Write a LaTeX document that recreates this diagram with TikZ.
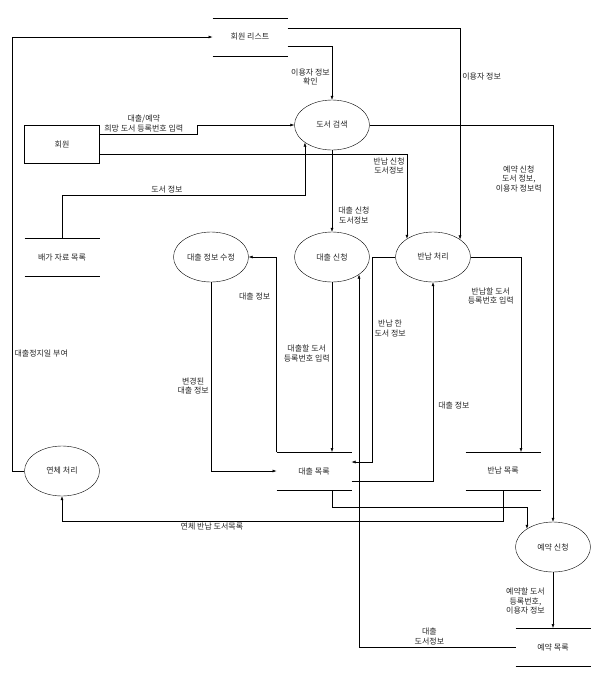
\documentclass[tikz,border=0pt]{standalone}
\usepackage{fontspec}
\setmainfont{Noto Sans CJK KR}
\usetikzlibrary{shapes.geometric, arrows.meta, positioning}

\begin{document}
\begin{tikzpicture}[x=1pt, y=-1pt,
        font=\fontsize{8}{9.5}\selectfont,
        every node/.style={text=black!85},
        proc/.style={draw, ellipse, minimum width=75pt, minimum height=50pt, inner sep=0pt},
        store/.style={minimum width=75pt, minimum height=38pt, inner sep=0pt, outer sep=0pt},
        ext/.style={draw, rectangle, minimum width=75pt, minimum height=38pt, inner sep=0pt},
        lbl/.style={align=center, inner sep=2pt},
        flow/.style={-{Latex[length=4pt, width=3pt]}, line width=0.5pt}]
        \useasboundingbox (0,0) rectangle (597,673);

        \node[store] (members)  at (250,37)  {회원 리스트};
        \node[ext]   (member)   at (62,144)  {회원};
        \node[store] (shelf)    at (62,257)  {배가 자료 목록};
        \node[proc]  (search)   at (332,125) {도서 검색};
        \node[proc]  (loanfix)  at (211,257) {대출 정보 수정};
        \node[proc]  (loan)     at (332,257) {대출 신청};
        \node[proc]  (ret)      at (433,257) {반납 처리};
        \node[store] (loans)    at (314,471) {대출 목록};
        \node[store] (returns)  at (503,471) {반납 목록};
        \node[proc]  (overdue)  at (62,471)  {연체 처리};
        \node[proc]  (reserve)  at (553,547) {예약 신청};
        \node[store] (reserves) at (553,647) {예약 목록};

        \foreach \s in {members,shelf,loans,returns,reserves}
        {
            \draw (\s.north west) -- (\s.north east) (\s.south west) -- (\s.south east);
        }

        \draw[flow] (overdue.west) -- ++(-12,0) |- node[lbl, right, pos=0.135]{대출정지일 부여} (members.west);
        \draw[flow] ([yshift=-9pt]members.east) -| node[lbl, left, pos=0.79]{이용자 정보\\확인} (search.north);
        \draw[flow] ([yshift=9pt]members.east) -| node[lbl, right, pos=0.615]{이용자 정보} (ret.33);
        \draw[flow] ([yshift=10pt]member.east) -- node[lbl, above, pos=0.45]{대출/예약\\희망 도서 등록번호 입력} ++(98,0) |- (search.west);
        \draw[flow] ([yshift=-10pt]member.east) -| node[lbl, left, pos=0.57]{반납 신청\\도서정보} (ret.145);
        \draw[flow] (shelf.north) -- ++(0,-43) -| node[lbl, above, pos=0.216]{도서 정보} (search.213);
        \draw[flow] (search.east) -| node[lbl, left=9pt, pos=0.568]{예약 신청\\도서 정보,\\이용자 정보력} (reserve.north);
        \draw[flow] (search.south) -- node[lbl, right=4pt, pos=0.8]{대출 신청\\도서정보} (loan.north);
        \draw[flow] (loans.north west) |- node[lbl, left=4pt, pos=0.4]{대출 정보} (loanfix.east);
        \draw[flow] (loanfix.south) |- node[lbl, left, pos=0.275]{변경된\\대출 정보} (loans.west);
        \draw[flow] (loan.south) -- node[lbl, left, pos=0.42]{대출할 도서\\등록번호 입력} (loan.south |- loans.north);
        \draw[flow] (reserves.west) -| node[lbl, above, pos=0.275]{대출\\도서정보} (loan.-33);
        \draw[flow] (ret.west) -- ++(-23,0) |- node[lbl, right, pos=0.175]{반납 한\\도서 정보} ([yshift=9pt]loans.east);
        \draw[flow] ([yshift=-10pt]loans.east) -| node[lbl, right=3pt, pos=0.69]{대출 정보} (ret.south);
        \draw[flow] (ret.east) -| node[lbl, left=5pt, pos=0.6]{반납할 도서\\등록번호 입력} ([xshift=18pt]returns.north);
        \draw[flow] ([xshift=18pt]loans.south) -- ++(0,17) -| (reserve.145);
        \draw[flow] (returns.south) -- ++(0,31) -| node[lbl, below, pos=0.33]{연체 반납 도서목록} (overdue.south);
        \draw[flow] (reserve.south) -- node[lbl, left=6pt, pos=0.52]{예약할 도서\\등록번호,\\이용자 정보} (reserves.north);
    \end{tikzpicture}
\end{document}
